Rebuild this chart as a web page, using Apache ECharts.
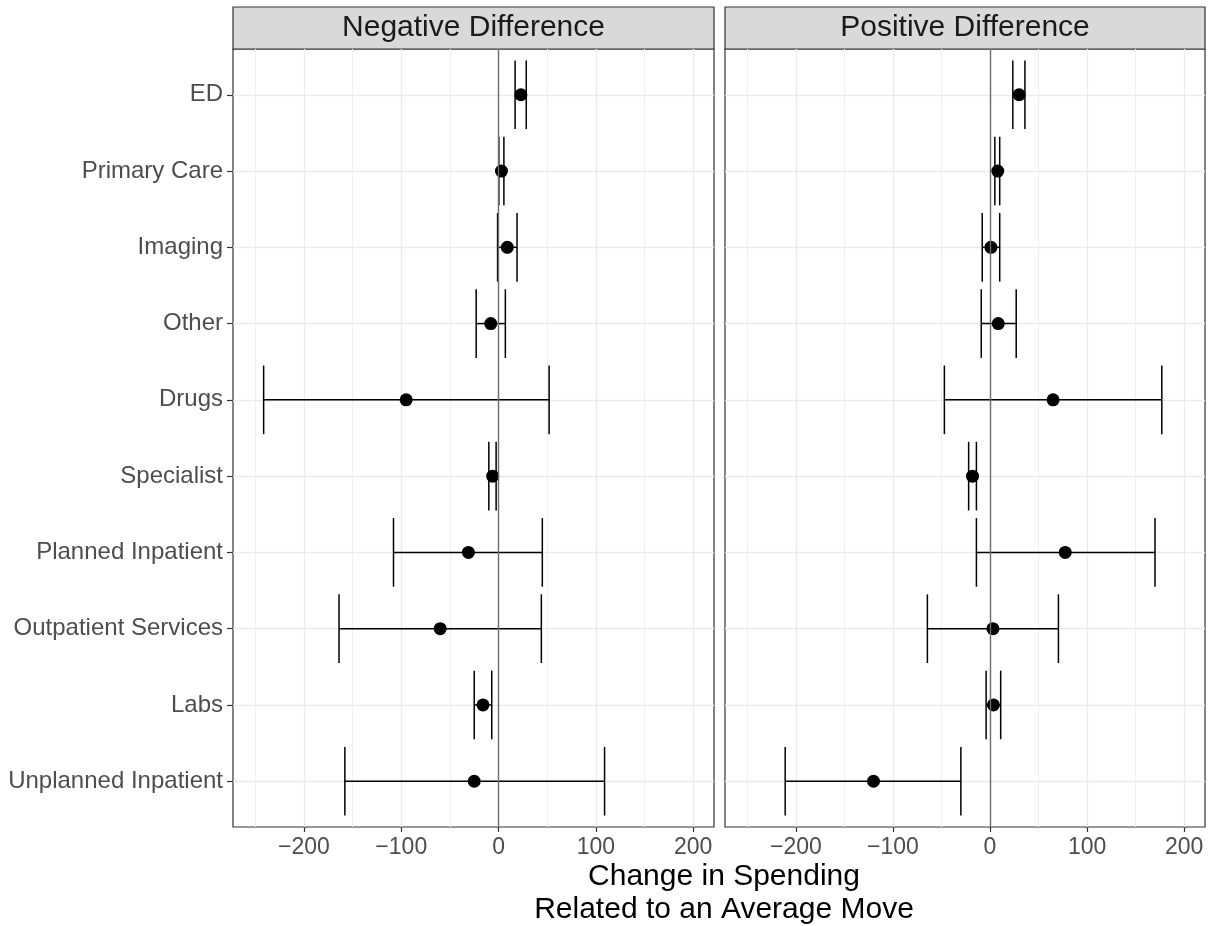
<!DOCTYPE html>
<html>
<head>
<meta charset="utf-8">
<title>Change in Spending</title>
<script src="https://cdn.jsdelivr.net/npm/echarts@6/dist/echarts.min.js"></script>
<style>
  html, body { margin: 0; padding: 0; background: #fff; }
  #chart { width: 1212px; height: 926px; }
</style>
</head>
<body>
<div id="chart"></div>
<script>
// categories, top to bottom
const categories = ['ED', 'Primary Care', 'Imaging', 'Other', 'Drugs', 'Specialist',
  'Planned Inpatient', 'Outpatient Services', 'Labs', 'Unplanned Inpatient']
const panels = ['Negative Difference', 'Positive Difference']

// Negative Difference panel: estimate and interval
const negEst = [23, 3, 9, -8, -95, -6, -31, -60, -16, -25]
const negLo = [17, 0.3, -1, -23, -241.5, -10, -108, -164, -25, -158]
const negHi = [28.5, 5.5, 19, 7, 52, -2.5, 45, 44, -7, 109]

// Positive Difference panel
const posEst = [30, 8, 1, 8.5, 65, -18, 77.5, 3, 3.5, -120]
const posLo = [23.5, 5, -8, -9, -47, -22, -14, -64.5, -4, -211]
const posHi = [36, 10, 10, 27, 177, -14, 170, 70.5, 11, -30]

// axis ticks
const xMajor = [-200, -100, 0, 100, 200]
const xMinor = [-250, -150, -50, 50, 150]
const xMin = -273
const xMax = 221.5

const FONT = 'Liberation Sans, Arial, sans-serif'
const chart = echarts.init(document.getElementById('chart'))

const grids = [
  { left: 233, top: 49, width: 481, height: 778 },
  { left: 725, top: 49, width: 480, height: 778 }
]

// x 轴：主刻度 + 次网格线
const xAxes = []
grids.forEach((g, i) => {
  xAxes.push({
    type: 'value', gridIndex: i, min: xMin, max: xMax, position: 'bottom',
    axisLine: { show: false, onZero: false },
    axisTick: { show: true, customValues: xMajor, length: 5, lineStyle: { color: '#333', width: 1.2 } },
    axisLabel: {
      customValues: xMajor, margin: 9, fontSize: 23, color: '#4d4d4d', fontFamily: FONT,
      formatter: v => String(v).replace('-', '\u2212')
    },
    splitLine: { show: true, lineStyle: { color: '#ebebeb', width: 1.4 } }
  })
})
grids.forEach((g, i) => {
  xAxes.push({
    type: 'value', gridIndex: i, min: xMin, max: xMax, position: 'top',
    axisLine: { show: false, onZero: false },
    axisTick: { show: false, customValues: xMinor },
    axisLabel: { show: false },
    splitLine: { show: true, lineStyle: { color: '#efefef', width: 1 } }
  })
})

const idx = categories.map((c, i) => i)
const yAxes = grids.map((g, i) => ({
  type: 'value', gridIndex: i, inverse: true, min: -0.6, max: 9.6, position: 'left',
  axisLine: { show: false, onZero: false },
  axisTick: { show: i === 0, customValues: idx, length: 6, lineStyle: { color: '#333', width: 1.2 } },
  axisLabel: {
    show: i === 0, customValues: idx, margin: 10, fontSize: 24, color: '#4d4d4d', fontFamily: FONT,
    formatter: v => categories[v] || ''
  },
  splitLine: { show: true, lineStyle: { color: '#ebebeb', width: 1.4 } }
}))

// 误差线
const errorBar = (params, api) => {
  const lo = api.coord([api.value(0), api.value(2)])
  const hi = api.coord([api.value(1), api.value(2)])
  const half = api.size([0, 1])[1] * 0.45
  const style = { stroke: '#000', lineWidth: 1.5 }
  return {
    type: 'group',
    children: [
      { type: 'line', shape: { x1: lo[0], y1: lo[1], x2: hi[0], y2: hi[1] }, style },
      { type: 'line', shape: { x1: lo[0], y1: lo[1] - half, x2: lo[0], y2: lo[1] + half }, style },
      { type: 'line', shape: { x1: hi[0], y1: hi[1] - half, x2: hi[0], y2: hi[1] + half }, style }
    ]
  }
}

const panelData = [
  { est: negEst, lo: negLo, hi: negHi },
  { est: posEst, lo: posLo, hi: posHi }
]

const series = []
panelData.forEach((d, i) => {
  series.push({
    type: 'custom', xAxisIndex: i, yAxisIndex: i, z: 3,
    renderItem: errorBar,
    data: idx.map(k => [d.lo[k], d.hi[k], k]),
    markLine: {
      silent: true, symbol: 'none', label: { show: false },
      lineStyle: { color: '#6e6e6e', width: 1.4, type: 'solid' },
      data: [{ xAxis: 0 }]
    }
  })
  series.push({
    type: 'scatter', xAxisIndex: i, yAxisIndex: i, z: 4,
    symbol: 'circle', symbolSize: 13,
    itemStyle: { color: '#000', opacity: 1 },
    data: idx.map(k => [d.est[k], k])
  })
})

// facet strips
const strips = []
grids.forEach((g, i) => {
  strips.push({
    type: 'rect', shape: { x: g.left, y: 7, width: g.width, height: 42 },
    style: { fill: '#d9d9d9', stroke: '#333', lineWidth: 1.2 }
  })
  strips.push({
    type: 'text', x: g.left + g.width / 2, y: 28,
    style: { text: panels[i], fontSize: 30, fontFamily: FONT, fill: '#1a1a1a', align: 'center', verticalAlign: 'middle' }
  })
})

const option = {
  backgroundColor: '#fff',
  animation: false,
  title: {
    text: 'Change in Spending\nRelated to an Average Move',
    left: 719, top: 855, textAlign: 'center',
    textStyle: { fontSize: 30, fontWeight: 'normal', color: '#000', fontFamily: FONT, lineHeight: 33 }
  },
  grid: grids.map(g => Object.assign({ show: true, borderColor: '#333', borderWidth: 1.2, backgroundColor: '#fff' }, g)),
  xAxis: xAxes,
  yAxis: yAxes,
  series: series,
  graphic: strips
}
chart.setOption(option)
</script>
</body>
</html>
